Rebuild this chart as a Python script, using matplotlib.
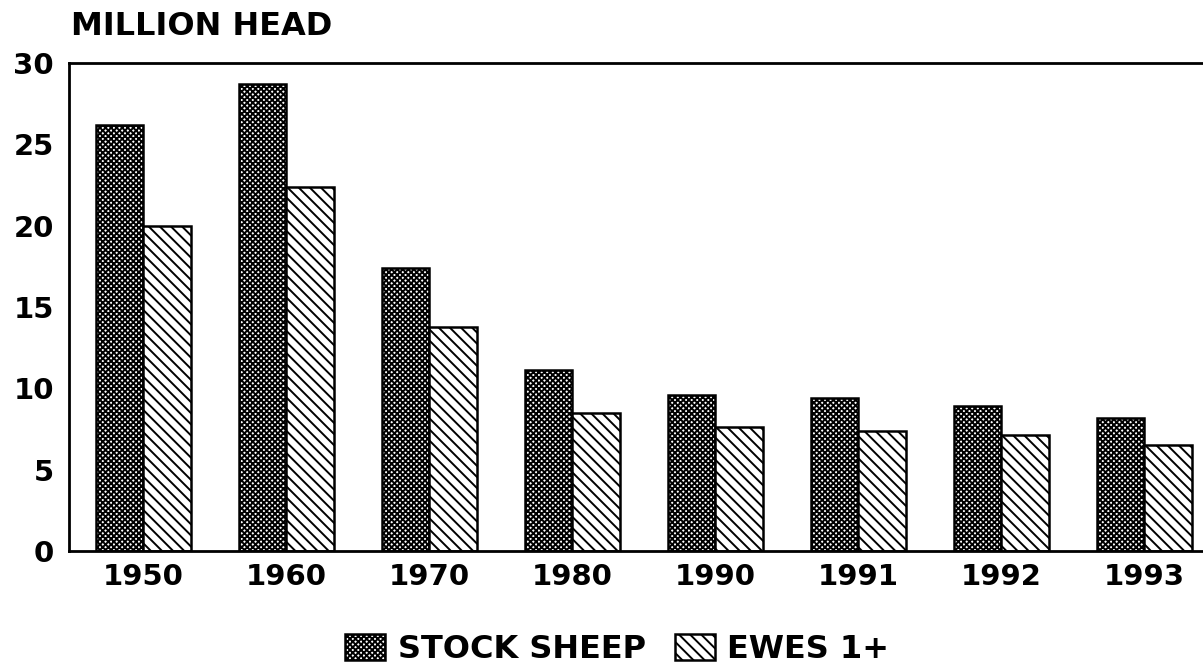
import matplotlib
matplotlib.use("Agg")
import matplotlib.pyplot as plt
import numpy as np

years = ["1950", "1960", "1970", "1980", "1990", "1991", "1992", "1993"]
stock_sheep = [26.2, 28.7, 17.4, 11.1, 9.6, 9.4, 8.9, 8.2]
ewes = [20.0, 22.4, 13.8, 8.5, 7.6, 7.4, 7.1, 6.5]

plt.rcParams['font.family'] = ['DejaVu Sans']
plt.rcParams['hatch.linewidth'] = 1.4

fig = plt.figure(figsize=(12.03, 6.67), dpi=100)
ax = fig.add_axes([0.0574, 0.174, 0.9426, 0.7315])

x = np.arange(len(years))
width = 0.33

ax.bar(x - width / 2, stock_sheep, width, facecolor='white', edgecolor='black',
       hatch='xxxxxx', linewidth=1.8, label='STOCK SHEEP')
ax.bar(x + width / 2, ewes, width, facecolor='white', edgecolor='black',
       hatch='\\\\\\', linewidth=1.8, label='EWES 1+')

ax.set_xlim(-0.52, 7.41)
ax.set_ylim(0, 30)
ax.set_yticks([0, 5, 10, 15, 20, 25, 30])
ax.set_xticks(x)
ax.set_xticklabels(years)
ax.tick_params(axis='x', length=0, labelsize=21, pad=9)
ax.tick_params(axis='y', length=0, labelsize=21, pad=11)
for lab in ax.get_xticklabels() + ax.get_yticklabels():
    lab.set_fontweight('bold')

for side in ['left', 'top', 'bottom']:
    ax.spines[side].set_linewidth(2)
ax.spines['right'].set_visible(False)

fig.text(0.059, 0.96, "MILLION HEAD", fontsize=23, fontweight='bold', va='center')

fig.legend(loc='center', bbox_to_anchor=(0.513, 0.026), ncol=2, frameon=False,
           prop={'size': 23, 'weight': 'bold'}, handlelength=1.25, handleheight=0.85,
           columnspacing=0.9, handletextpad=0.4)

fig.savefig("out.png", dpi=100)
